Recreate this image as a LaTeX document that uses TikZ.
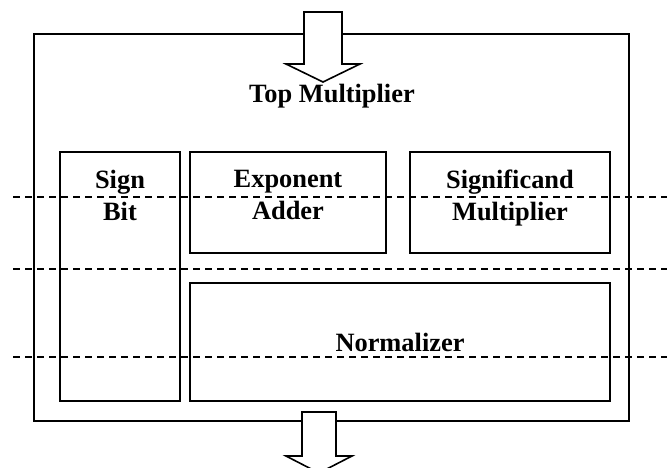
\documentclass[tikz,border=0pt]{standalone}
\usepackage{fontspec}
\setmainfont{Liberation Serif}
\usetikzlibrary{positioning}

\begin{document}
\begin{tikzpicture}[x=1pt,y=-1pt,line width=1.6pt,
        unit/.style={draw,rectangle,inner sep=0pt,font=\fontsize{26.4}{32}\selectfont\bfseries,align=center},
        unitlabel/.style={font=\fontsize{26.4}{32}\selectfont\bfseries,align=center,anchor=north,inner sep=0pt},
        flow/.style={draw,fill=white,line join=miter},
        cut/.style={dash pattern=on 7pt off 5pt}]
        \useasboundingbox (0,0) rectangle (672,468);
        \clip (0,0) rectangle (672,468);

        % outer block and sub units
        \node[unit,minimum width=595pt,minimum height=387pt] (top) at (331.5,227.5) {};
        \node[unit,minimum width=120pt,minimum height=249pt] (sign) at (120,276.5) {};
        \node[unit,minimum width=196pt,minimum height=101pt] (exp) at (288,202.5) {};
        \node[unit,minimum width=200pt,minimum height=101pt] (sig) at (510,202.5) {};
        \node[unit,minimum width=420pt,minimum height=118pt] (norm) at (400,342) {Normalizer};

        \node[unitlabel] (toplabel) at (332,83) {Top Multiplier};
        \node[unitlabel] (signlabel) at (120,169) {Sign\\Bit};
        \node[unitlabel] (explabel) at (288,169) {Exponent\\Adder};
        \node[unitlabel] (siglabel) at (510,169) {Significand\\Multiplier};

        % input and output arrows
        \draw[flow] (304,12) -- (342,12) -- (342,64) -- (360,64) -- (323,82)
            -- (286,64) -- (304,64) -- cycle;
        \draw[flow] (302,412) -- (336,412) -- (336,456) -- (352,456) -- (319,473)
            -- (286,456) -- (302,456) -- cycle;

        % pipeline cuts
        \foreach \yc in {197,269,357}
            \draw[cut] (13,\yc) -- (667,\yc);
    \end{tikzpicture}
\end{document}
